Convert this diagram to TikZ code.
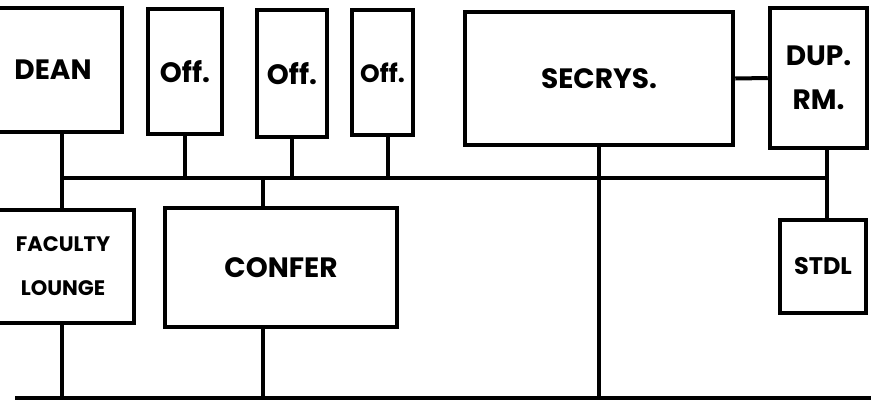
\documentclass[tikz,border=0pt]{standalone}
\usepackage{fontspec}
\setsansfont{Poppins}
\begin{document}
\begin{tikzpicture}[x=1pt,y=-1pt,
  box/.style={draw, line width=4.5pt, rectangle, inner sep=0pt, align=center,
    font=\sffamily\bfseries\fontsize{28}{44}\selectfont},
  wire/.style={line width=4pt}]
\useasboundingbox (0,0) rectangle (871,405);
\clip (0,0) rectangle (871,405);
\fill[white] (0,0) rectangle (871,405);
% boxes
\node[box, minimum width=130pt, minimum height=124pt] (dean) at (57,70) {\hspace*{-8pt}DEAN};
\node[box, minimum width=74pt, minimum height=125pt] (off1) at (185,71.5) {Off.};
\node[box, minimum width=70pt, minimum height=127pt] (off2) at (292,73.5) {Off.};
\node[box, minimum width=61pt, minimum height=125pt,
  font=\sffamily\bfseries\fontsize{25}{44}\selectfont] (off3) at (382.5,72.5) {Off.};
\node[box, minimum width=268pt, minimum height=133pt] (secrys) at (599,78.5) {SECRYS.};
\node[box, minimum width=97pt, minimum height=140pt] (dup) at (818.5,78) {DUP.\\RM.};
\node[box, minimum width=142pt, minimum height=113pt,
  font=\sffamily\bfseries\fontsize{21}{44}\selectfont] (fl) at (63,266.5) {FACULTY\\LOUNGE};
\node[box, minimum width=232pt, minimum height=119pt] (confer) at (281,267.5) {CONFER};
\node[box, minimum width=86pt, minimum height=93pt,
  font=\sffamily\bfseries\fontsize{24}{44}\selectfont] (stdl) at (823,266.5) {STDL};
% buses
\coordinate (b1L) at (62,178);
\coordinate (b1R) at (827,178);
\coordinate (b2L) at (15,398);
\coordinate (b2R) at (871,398);
\draw[wire] (b1L) -- (b1R);
\draw[wire, line width=3.5pt] (b2L) -- (b2R);
% connectors
\draw[wire] (b1L |- dean.south) -- (b1L |- fl.north);
\draw[wire] (b1L |- fl.south) -- (b1L |- b2L);
\draw[wire] (off1.south) -- (off1.south |- b1L);
\draw[wire] (off2.south) -- (off2.south |- b1L);
\draw[wire] ([xshift=5pt]off3.south) -- ([xshift=5pt]off3.south |- b1L);
\draw[wire] (secrys.south) -- (secrys.south |- b2L);
\draw[wire] (secrys.east) -- (dup.west);
\draw[wire] (b1R |- dup.south) -- (b1R |- stdl.north);
\draw[wire] ([xshift=-18pt]confer.north |- b1L) -- ([xshift=-18pt]confer.north);
\draw[wire] ([xshift=-18pt]confer.south) -- ([xshift=-18pt]confer.south |- b2L);
\end{tikzpicture}
\end{document}
